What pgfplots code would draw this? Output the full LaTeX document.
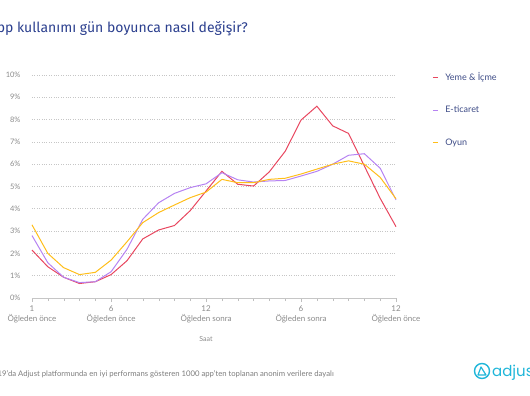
\documentclass[border=0pt]{standalone}
\usepackage{fontspec}
\setmainfont{Lato}
\newfontfamily\titlefont{Fira Sans}
\newfontfamily\logofont{Poppins}
\usepackage{pgfplots}
\usepackage{pgfplotstable}
\pgfplotsset{compat=1.18}
\definecolor{cred}{HTML}{E8475F}
\definecolor{cpurple}{HTML}{B683F2}
\definecolor{cyellow}{HTML}{FFBE1A}
\definecolor{ctitle}{HTML}{2B3F8E}
\definecolor{clegend}{HTML}{3D4B86}
\definecolor{ctick}{HTML}{8A8A8A}
\definecolor{cadj}{HTML}{1FB6D9}

\pgfplotstableread{
h red purple yellow
1 2.15 2.80 3.28
2 1.40 1.58 2.00
3 0.93 0.93 1.36
4 0.65 0.69 1.05
5 0.73 0.73 1.15
6 1.05 1.18 1.70
7 1.67 2.18 2.52
8 2.65 3.53 3.38
9 3.05 4.27 3.83
10 3.25 4.69 4.17
11 3.92 4.95 4.50
12 4.80 5.12 4.75
13 5.68 5.62 5.32
14 5.10 5.30 5.17
15 5.02 5.20 5.17
16 5.66 5.25 5.32
17 6.58 5.27 5.37
18 7.98 5.47 5.56
19 8.60 5.68 5.78
20 7.72 6.00 6.00
21 7.38 6.40 6.15
22 5.92 6.47 6.00
23 4.47 5.82 5.41
24 3.20 4.40 4.45
}\datatable

\begin{document}
\begin{tikzpicture}
\begin{axis}[
  name=ax,
  scale only axis,
  width=364pt, height=223pt,
  xmin=1, xmax=24, ymin=0, ymax=10,
  axis x line*=bottom, axis y line*=left,
  x axis line style={-, draw=gray!45},
  y axis line style={draw=none},
  ytick={0,1,...,10},
  yticklabel={\pgfmathprintnumber{\tick}\%},
  /pgf/number format/assume math mode=true,
  ytick style={draw=none},
  yticklabel style={font=\fontsize{7.5}{9}\selectfont, text=ctick, xshift=-4pt},
  xtick={1,6,12,18,24},
  minor xtick={2,3,4,5,7,8,9,10,11,13,14,15,16,17,19,20,21,22,23},
  xticklabels={{1\\Öğleden önce},{6\\Öğleden önce},{12\\Öğleden sonra},{6\\Öğleden sonra},{12\\Öğleden önce}},
  xticklabel style={align=center, font=\fontsize{8}{10}\selectfont, text=ctick},
  tick align=outside,
  major tick length=4pt, minor tick length=3pt,
  xtick style={draw=gray!50},
  minor tick style={draw=gray!50},
  ymajorgrids,
  major grid style={dotted, gray!45, line width=0.6pt},
  xlabel={Saat},
  xlabel style={anchor=center, xshift=-8pt, yshift=-13pt, font=\fontsize{7}{8}\selectfont, text=ctick},
  clip=false,
  legend style={at={(rel axis cs:1.099,1.02)}, anchor=north west, draw=none, fill=none,
    font=\fontsize{9}{10}\selectfont, text=clegend, row sep=20pt, inner sep=0pt},
  legend cell align=left,
  legend image code/.code={\draw[#1, line width=1.1pt] (0pt,0pt) -- (5pt,0pt); \path (10pt,0pt);},
]
\addplot[cred, line width=1pt, no markers] table[x=h, y=red] {\datatable};
\addlegendentry{Yeme \& İçme}
\addplot[cpurple, line width=1pt, no markers] table[x=h, y=purple] {\datatable};
\addlegendentry{E-ticaret}
\addplot[cyellow, line width=1pt, no markers] table[x=h, y=yellow] {\datatable};
\addlegendentry{Oyun}
\end{axis}
\begin{scope}[shift={(ax.south west)}, x=1pt, y=1pt]
\node[anchor=base east, font=\titlefont\fontsize{14}{16}\selectfont, text=ctitle, inner sep=0] at (216,265) {App kullanımı gün boyunca nasıl değişir?};
\node[anchor=base east, font=\fontsize{7.72}{9}\selectfont, text=ctick!90!black, inner sep=0] at (302,-78) {2019'da Adjust platformunda en iyi performans gösteren 1000 app'ten toplanan anonim verilere dayalı};
\draw[cadj, line width=1.4pt] (450,-73) circle (7.5);
\draw[cadj, line width=1.2pt, line join=round, line cap=round] (446,-77) -- (449,-69) -- (454,-77) -- cycle;
\node[anchor=base west, text=cadj, font=\logofont\fontsize{15}{17}\selectfont, inner sep=0] at (460,-78) {adjust};
\pgfresetboundingbox
\path[use as bounding box] (-32,-98) rectangle (498,298);
\end{scope}
\end{tikzpicture}
\end{document}
